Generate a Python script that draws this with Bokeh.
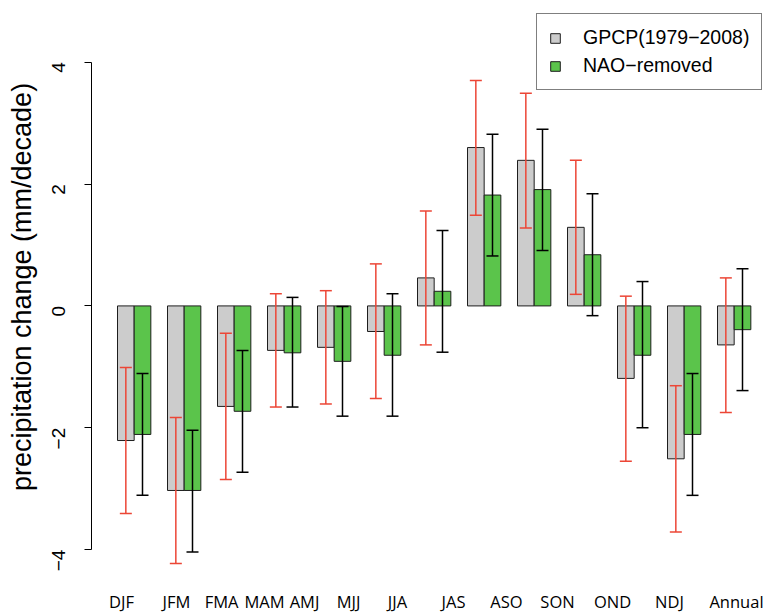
from math import pi

from bokeh.embed import file_html
from bokeh.models import (ColumnDataSource, FixedTicker, Range1d, TeeHead,
                          Whisker)
from bokeh.plotting import figure
from bokeh.resources import INLINE

# Seasonal precipitation trends (mm/decade) with uncertainty ranges
seasons = ["DJF", "JFM", "FMA", "MAM", "AMJ", "MJJ", "JJA",
           "JAS", "ASO", "SON", "OND", "NDJ", "Annual"]

gpcp = [-2.21, -3.03, -1.65, -0.73, -0.68, -0.42, 0.46,
        2.60, 2.39, 1.29, -1.19, -2.51, -0.64]
gpcp_lower = [-3.41, -4.23, -2.85, -1.66, -1.61, -1.52, -0.64,
              1.49, 1.28, 0.19, -2.55, -3.71, -1.75]
gpcp_upper = [-1.01, -1.83, -0.45, 0.20, 0.25, 0.69, 1.56,
              3.70, 3.49, 2.39, 0.16, -1.31, 0.46]

nao_removed = [-2.11, -3.03, -1.73, -0.77, -0.91, -0.81, 0.24,
               1.82, 1.91, 0.84, -0.81, -2.11, -0.39]
nao_lower = [-3.11, -4.04, -2.73, -1.66, -1.81, -1.81, -0.76,
             0.82, 0.91, -0.16, -2.00, -3.11, -1.39]
nao_upper = [-1.11, -2.04, -0.73, 0.14, -0.01, 0.20, 1.24,
             2.82, 2.90, 1.84, 0.40, -1.11, 0.61]

y_ticks = [-4, -2, 0, 2, 4]

# label anchors along the season axis (bar units)
label_pos = [1.24, 4.54, 7.25, 9.82, 12.22, 14.86, 17.80,
             21.16, 24.34, 27.40, 30.70, 34.12, 38.14]

GRAY = "#cccccc"
GREEN = "#5bc44b"
RED = "#ec4636"
EDGE = "#1e1e1e"

# grouped layout: each season takes two bars plus one bar-width gap
x_gray = [1.5 + 3 * i for i in range(len(seasons))]
x_green = [2.5 + 3 * i for i in range(len(seasons))]

src_gray = ColumnDataSource(dict(x=x_gray, top=gpcp, lo=gpcp_lower, hi=gpcp_upper))
src_green = ColumnDataSource(dict(x=x_green, top=nao_removed, lo=nao_lower, hi=nao_upper))

p = figure(width=766, height=615, output_backend="svg", toolbar_location=None,
           x_range=Range1d(-0.56, 39.94), y_range=Range1d(-4.393, 5.014),
           min_border_left=91, min_border_right=0, min_border_top=0,
           min_border_bottom=40)
p.outline_line_color = None
p.xgrid.visible = False
p.ygrid.visible = False
p.background_fill_color = "white"
p.border_fill_color = "white"

p.vbar(x="x", top="top", bottom=0, width=1, source=src_gray,
       fill_color=GRAY, line_color=EDGE, line_width=1,
       legend_label="GPCP(1979\u22122008)")
p.vbar(x="x", top="top", bottom=0, width=1, source=src_green,
       fill_color=GREEN, line_color=EDGE, line_width=1,
       legend_label="NAO\u2212removed")

for src, col in ((src_gray, RED), (src_green, "black")):
    w = Whisker(source=src, base="x", lower="lo", upper="hi",
                line_color=col, line_width=1.5, level="annotation",
                lower_head=TeeHead(size=12, line_color=col, line_width=1.5),
                upper_head=TeeHead(size=12, line_color=col, line_width=1.5))
    p.add_layout(w)

# y axis: R-style, line only between the outer ticks, labels parallel to axis
ya = p.yaxis[0]
ya.ticker = FixedTicker(ticks=y_ticks)
ya.bounds = (-4, 4)
ya.major_label_overrides = {t: (str(t).replace("-", "\u2212")) for t in y_ticks}
ya.major_label_orientation = pi / 2
ya.major_tick_out = 7
ya.major_tick_in = 0
ya.minor_tick_line_color = None
ya.axis_line_color = "black"
ya.major_tick_line_color = "black"
ya.major_label_text_font = "Liberation Sans"
ya.major_label_text_font_size = "19px"
ya.major_label_text_color = "black"
ya.major_label_standoff = 26
ya.axis_label = "precipitation change (mm/decade)"
ya.axis_label_text_font = "Liberation Sans"
ya.axis_label_text_font_size = "27px"
ya.axis_label_text_font_style = "normal"
ya.axis_label_text_color = "black"
ya.axis_label_standoff = 6

# x axis: season names only
xa = p.xaxis[0]
xa.ticker = FixedTicker(ticks=label_pos)
xa.major_label_overrides = {pos: name for pos, name in zip(label_pos, seasons)}
xa.axis_line_color = None
xa.major_tick_line_color = None
xa.minor_tick_line_color = None
xa.major_tick_out = 0
xa.major_tick_in = 0
xa.major_label_text_font = "Open Sans"
xa.major_label_text_font_size = "16.5px"
xa.major_label_text_color = "black"
xa.major_label_standoff = 16

leg = p.legend[0]
leg.location = (445, 483)
leg.border_line_color = "black"
leg.border_line_width = 1
leg.background_fill_color = "white"
leg.background_fill_alpha = 1
leg.label_text_font = "Liberation Sans"
leg.label_text_font_size = "19.5px"
leg.label_text_color = "black"
leg.glyph_width = 12
leg.glyph_height = 12
leg.label_height = 20
leg.label_standoff = 22
leg.spacing = 5
leg.padding = 12
leg.margin = 0

open("out.html", "w").write(file_html(p, INLINE))
